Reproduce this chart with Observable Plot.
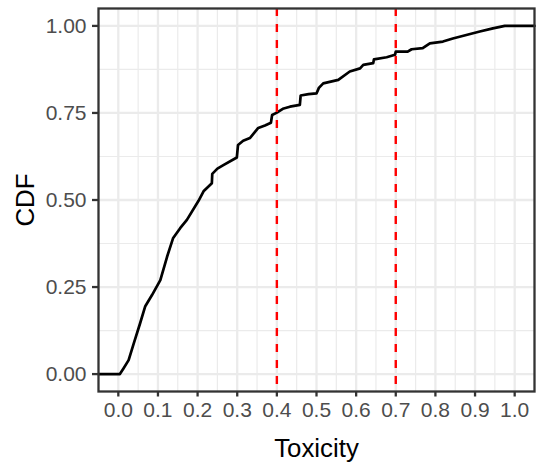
<!DOCTYPE html>
<html>
<head>
<meta charset="utf-8">
<script src="https://cdn.jsdelivr.net/npm/d3@7"></script>
<script src="https://cdn.jsdelivr.net/npm/@observablehq/plot@0.6"></script>
<style>
  html, body { margin: 0; padding: 0; background: #fff; }
  #chart svg { display: block; }
</style>
</head>
<body>
<div id="chart"></div>
<script>
const toxicity = [-0.05, 0.004, 0.013, 0.026, 0.039, 0.055, 0.068, 0.085, 0.106, 0.123, 0.138, 0.156, 0.173, 0.202,
  0.215, 0.236, 0.237, 0.25, 0.265, 0.299, 0.302, 0.315, 0.332, 0.353, 0.37, 0.385, 0.388, 0.4, 0.415, 0.433,
  0.458, 0.46, 0.48, 0.5, 0.506, 0.517, 0.555, 0.584, 0.61, 0.618, 0.643, 0.645, 0.677, 0.698, 0.70, 0.73,
  0.74, 0.768, 0.786, 0.819, 0.844, 0.878, 0.912, 0.945, 0.975, 1.05];
const cdf = [0, 0, 0.016, 0.04, 0.088, 0.146, 0.195, 0.227, 0.27, 0.337, 0.39, 0.419, 0.443, 0.497,
  0.525, 0.548, 0.575, 0.59, 0.6, 0.622, 0.658, 0.67, 0.678, 0.707, 0.714, 0.722, 0.744, 0.751, 0.762, 0.768,
  0.773, 0.80, 0.804, 0.806, 0.822, 0.835, 0.845, 0.869, 0.878, 0.888, 0.893, 0.904, 0.91, 0.917, 0.926, 0.926,
  0.933, 0.936, 0.95, 0.955, 0.964, 0.974, 0.984, 0.993, 1.0, 1.0];
const thresholds = [0.4, 0.7];
const xTicks = [0, 0.1, 0.2, 0.3, 0.4, 0.5, 0.6, 0.7, 0.8, 0.9, 1.0];
const xMinor = [0.05, 0.15, 0.25, 0.35, 0.45, 0.55, 0.65, 0.75, 0.85, 0.95];
const yTicks = [0, 0.25, 0.5, 0.75, 1.0];
const yMinor = [0.125, 0.375, 0.625, 0.875];
const xTitle = "Toxicity";
const yTitle = "CDF";

const data = toxicity.map((t, i) => ({toxicity: t, cdf: cdf[i]}));
const font = "'Liberation Sans', Arial, Helvetica, sans-serif";

const chart = Plot.plot({
  width: 537,
  height: 464,
  marginLeft: 98,
  marginRight: 3,
  marginTop: 8,
  marginBottom: 73,
  style: {fontFamily: font, fontSize: "21px", background: "#fff"},
  x: {domain: [-0.05, 1.05]},
  y: {domain: [-0.05, 1.05]},
  marks: [
    Plot.ruleX(xMinor, {stroke: "#ebebeb", strokeWidth: 1.2}),
    Plot.ruleY(yMinor, {stroke: "#ebebeb", strokeWidth: 1.2}),
    Plot.ruleX(xTicks, {stroke: "#ebebeb", strokeWidth: 2.3}),
    Plot.ruleY(yTicks, {stroke: "#ebebeb", strokeWidth: 2.3}),
    Plot.line(data, {x: "toxicity", y: "cdf", stroke: "black", strokeWidth: 2.7, strokeLinejoin: "round"}),
    Plot.ruleX(thresholds, {stroke: "red", strokeWidth: 2.4, strokeDasharray: "8,8"}),
    Plot.frame({stroke: "#333333", strokeWidth: 2.3}),
    Plot.axisX({ticks: xTicks, tickFormat: d3.format(".1f"), tickSize: 5.5, tickPadding: 5.5,
      fontSize: 21, stroke: "#333333", strokeWidth: 2.3, fill: "#4d4d4d", label: null}),
    Plot.axisY({ticks: yTicks, tickFormat: d3.format(".2f"), tickSize: 6, tickPadding: 6,
      fontSize: 21, stroke: "#333333", strokeWidth: 2.3, fill: "#4d4d4d", label: null}),
    Plot.text([xTitle], {frameAnchor: "bottom", textAnchor: "middle", lineAnchor: "middle", dy: 57.3,
      fontSize: 25.8, fill: "black", text: d => d}),
    Plot.text([yTitle], {frameAnchor: "left", textAnchor: "middle", lineAnchor: "middle", dx: -73.2, rotate: -90,
      fontSize: 25.8, fill: "black", text: d => d})
  ]
});
document.getElementById("chart").appendChild(chart);
</script>
</body>
</html>
